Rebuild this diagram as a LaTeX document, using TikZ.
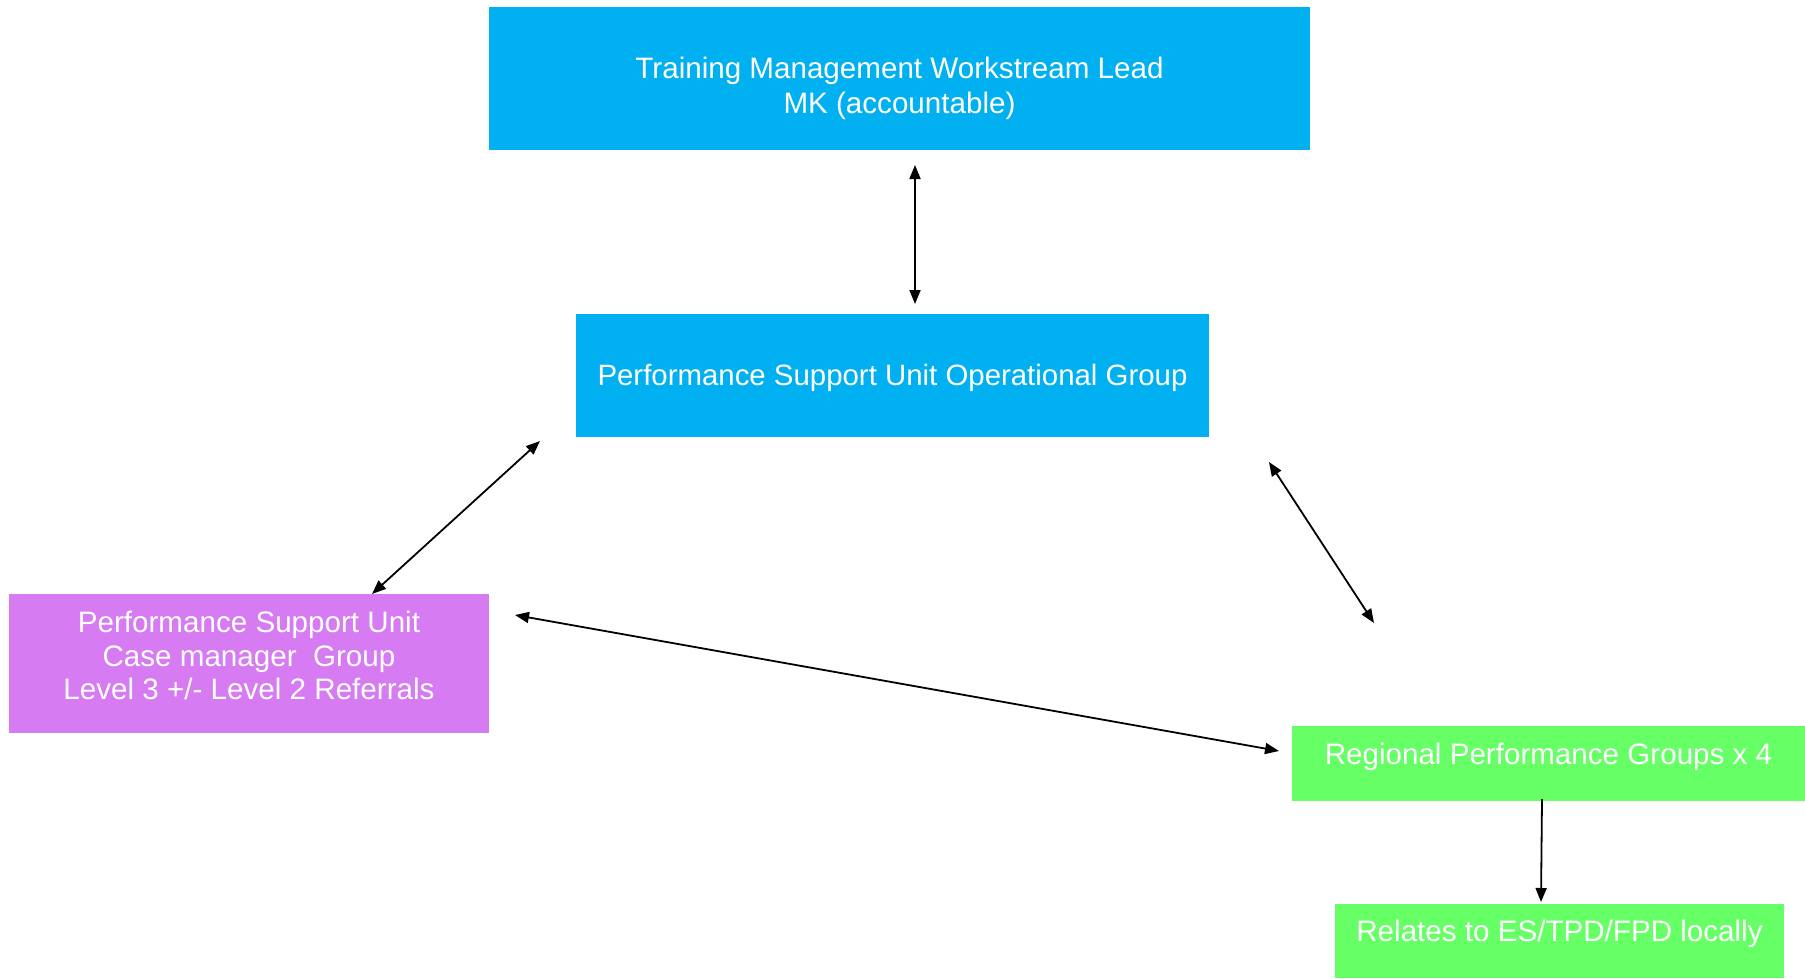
\documentclass[tikz,border=0pt]{standalone}
\usepackage{fontspec}
\setmainfont{Liberation Sans}
\usetikzlibrary{arrows.meta}
\definecolor{boxblue}{HTML}{00B0F0}
\definecolor{boxmag}{HTML}{D67BF1}
\definecolor{boxgreen}{HTML}{66FF66}
\tikzset{
  box/.style={draw=none, inner sep=0pt, outer sep=0pt},
  txt/.style={text=white, align=center, inner sep=0pt, font=\fontsize{29.6}{34.5}\selectfont},
  conn/.style={line width=1.8pt, draw=black, {Triangle[length=14pt,width=11pt]}-{Triangle[length=14pt,width=11pt]}},
  conn1/.style={line width=1.8pt, draw=black, -{Triangle[length=14pt,width=11pt]}}
}
\begin{document}
\begin{tikzpicture}[x=1pt,y=-1pt]
\useasboundingbox (0,0) rectangle (1805,978);
% boxes
\fill[boxblue] (489,7) rectangle (1310,150);
\node[box] (top) at (899.5,78.5) {};
\node[txt] (topt) at (899.5,88.5) {Training Management Workstream Lead\\MK (accountable)};

\fill[boxblue] (576,314) rectangle (1209,437);
\node[box] (ops) at (892.5,375.5) {};
\node[txt, font=\fontsize{29.4}{34.5}\selectfont] (opst) at (892.5,377.5) {Performance Support Unit Operational Group};

\fill[boxmag] (9,594) rectangle (489,733);
\node[box] (case) at (249,663.5) {};
\node[txt, font=\fontsize{29.6}{33.3}\selectfont] (caset) at (249,655.5) {Performance Support Unit\\Case manager\ \ Group\\Level 3 +/- Level 2 Referrals};

\fill[boxgreen] (1292,726) rectangle (1805,801);
\node[box] (reg) at (1548.5,763.5) {};
\node[txt] (regt) at (1548.5,756.5) {Regional Performance Groups x 4};

\fill[boxgreen] (1335,904) rectangle (1784,978);
\node[box] (rel) at (1559.5,941) {};
\node[txt] (relt) at (1559.5,933.5) {Relates to ES/TPD/FPD locally};

% connector end points
\coordinate (a1s) at (915,165);
\coordinate (a1e) at (915,304);
\coordinate (a2s) at (372,594);
\coordinate (a2e) at (540,441);
\coordinate (a3s) at (1269,462);
\coordinate (a3e) at (1374,623);
\coordinate (a4s) at (515,615);
\coordinate (a4e) at (1279,751);
\coordinate (a5s) at (1542,799);
\coordinate (a5e) at (1541,902);

\draw[conn] (a1s) -- (a1e);
\draw[conn] (a2s) -- (a2e);
\draw[conn] (a3s) -- (a3e);
\draw[conn] (a4s) -- (a4e);
\draw[conn1] (a5s) -- (a5e);
\end{tikzpicture}
\end{document}
